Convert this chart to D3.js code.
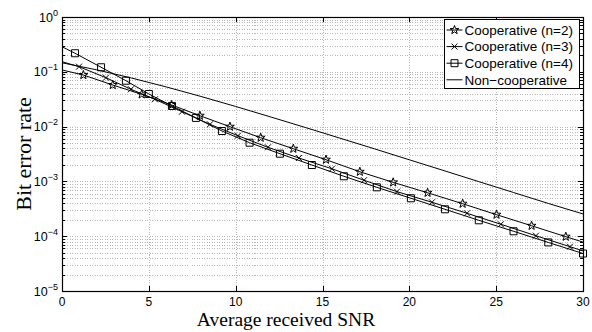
<!DOCTYPE html>
<html>
<head>
<meta charset="utf-8">
<script src="https://cdn.jsdelivr.net/npm/d3@7"></script>
<style>
  html, body { margin: 0; padding: 0; background: #fff; }
  svg { display: block; }
</style>
</head>
<body>
<svg id="chart" width="592" height="332"></svg>
<script>
// values
const coop2Snr = [0, 1.23, 2.92, 4.59, 6.31, 7.94, 9.67, 11.44, 13.32, 15.2, 17.15, 19.07, 21.05, 23.07, 25.02, 27.04, 29.01, 30];
const coop2Ber = [0.108, 0.0874, 0.0574, 0.0388, 0.0248, 0.0158, 0.00996, 0.00627, 0.00395, 0.00249, 0.0015, 9.6e-4, 6.2e-4, 3.92e-4, 2.47e-4, 1.55e-4, 9.8e-5, 7.8e-5];

const coop3Snr = [0, 0.98, 2.53, 3.97, 5.35, 6.91, 8.52, 10.13, 11.86, 13.64, 15.54, 17.39, 19.29, 21.3, 23.32, 25.27, 27.29, 29.25, 30];
const coop3Ber = [0.153, 0.124, 0.078, 0.048, 0.0315, 0.0187, 0.011, 0.00682, 0.00419, 0.00267, 0.0017, 0.00105, 6.5e-4, 4.16e-4, 2.62e-4, 1.65e-4, 1.02e-4, 6.43e-5, 5.4e-5];

const coop4Snr = [0, 0.75, 2.25, 3.68, 5.0, 6.33, 7.71, 9.21, 10.8, 12.55, 14.39, 16.23, 18.13, 20.09, 22.05, 24, 26, 28, 30];
const coop4Ber = [0.287, 0.218, 0.121, 0.0688, 0.0394, 0.0238, 0.0144, 0.00831, 0.00508, 0.0032, 0.00199, 0.00124, 7.8e-4, 4.92e-4, 3.1e-4, 1.95e-4, 1.23e-4, 7.7e-5, 4.83e-5];

const nonCoopSnr = [0, 2, 4, 6, 8, 10, 12, 14, 16, 18, 20, 22, 24, 26, 28, 30];
const nonCoopBer = [0.146, 0.1085, 0.0771, 0.053, 0.0355, 0.0233, 0.01505, 0.00966, 0.00616, 0.00392, 0.00248, 0.00157, 9.9e-4, 6.27e-4, 3.96e-4, 2.55e-4];

const xTicks = [0, 5, 10, 15, 20, 25, 30];
const yExponents = [0, -1, -2, -3, -4, -5];

const series = [
  { name: 'Cooperative (n=2)', x: coop2Snr, y: coop2Ber, marker: 'star', from: 1, to: coop2Snr.length - 2 },
  { name: 'Cooperative (n=3)', x: coop3Snr, y: coop3Ber, marker: 'cross', from: 1, to: coop3Snr.length - 2 },
  { name: 'Cooperative (n=4)', x: coop4Snr, y: coop4Ber, marker: 'square', from: 1, to: coop4Snr.length - 1 },
  { name: 'Non\u2212cooperative', x: nonCoopSnr, y: nonCoopBer, marker: null }
];

const margin = { left: 62, right: 9, top: 17, bottom: 41 };
const W = 592, H = 332;
const pw = W - margin.left - margin.right;
const ph = H - margin.top - margin.bottom;

const svg = d3.select('#chart');
const g = svg.append('g').attr('transform', `translate(${margin.left},${margin.top})`);

const x = d3.scaleLinear().domain([0, 30]).range([0, pw]);
const y = d3.scaleLog().domain([1e-5, 1]).range([ph, 0]);

// minor + major log ticks
const logTicks = [];
for (let e = -5; e < 0; e++) {
  for (let m = 1; m <= 9; m++) logTicks.push(m * Math.pow(10, e));
}
logTicks.push(1);

// grid
const grid = g.append('g')
  .attr('stroke', '#b8b8b8')
  .attr('stroke-width', 1)
  .attr('stroke-dasharray', '1,1.5')
  .attr('shape-rendering', 'crispEdges');
grid.selectAll('.gy').data(logTicks.filter(v => v > 1e-5 && v < 1)).join('line')
  .attr('x1', 0).attr('x2', pw)
  .attr('y1', d => Math.round(y(d)) + 0.5).attr('y2', d => Math.round(y(d)) + 0.5);
grid.selectAll('.gx').data(xTicks.filter(v => v > 0 && v < 30)).join('line')
  .attr('y1', 0).attr('y2', ph)
  .attr('x1', d => Math.round(x(d)) + 0.5).attr('x2', d => Math.round(x(d)) + 0.5);

// ticks (inward, all four sides)
const ticks = g.append('g').attr('stroke', '#000').attr('stroke-width', 1).attr('shape-rendering', 'crispEdges');
xTicks.forEach(v => {
  const px = Math.round(x(v)) + 0.5;
  ticks.append('line').attr('x1', px).attr('x2', px).attr('y1', ph).attr('y2', ph - 5);
  ticks.append('line').attr('x1', px).attr('x2', px).attr('y1', 0).attr('y2', 5);
});
logTicks.forEach(v => {
  const py = Math.round(y(v)) + 0.5;
  const len = Math.abs(Math.log10(v) - Math.round(Math.log10(v))) < 1e-9 ? 5 : 3;
  ticks.append('line').attr('x1', 0).attr('x2', len).attr('y1', py).attr('y2', py);
  ticks.append('line').attr('x1', pw).attr('x2', pw - len).attr('y1', py).attr('y2', py);
});

// lines
const line = d3.line().x(d => x(d[0])).y(d => y(d[1]));
const plot = g.append('g');
series.forEach(s => {
  const pts = s.x.map((v, i) => [v, s.y[i]]);
  plot.append('path').datum(pts)
    .attr('d', line)
    .attr('fill', 'none')
    .attr('stroke', '#000')
    .attr('stroke-width', 1);
});

function starPath(r) {
  const pts = [];
  for (let i = 0; i < 10; i++) {
    const rr = i % 2 === 0 ? r : r * 0.4;
    const a = -Math.PI / 2 + i * Math.PI / 5;
    pts.push([rr * Math.cos(a), rr * Math.sin(a)]);
  }
  return 'M' + pts.map(p => p[0].toFixed(2) + ',' + p[1].toFixed(2)).join('L') + 'Z';
}
function markerPath(type) {
  if (type === 'star') return starPath(4.6);
  if (type === 'cross') return 'M-3,-3L3,3M-3,3L3,-3';
  if (type === 'square') return 'M-3.5,-3.5H3.5V3.5H-3.5Z';
  return '';
}

series.forEach(s => {
  if (!s.marker) return;
  const pts = s.x.map((v, i) => [v, s.y[i]]).slice(s.from, s.to + 1);
  plot.selectAll(null).data(pts).join('path')
    .attr('transform', d => `translate(${x(d[0])},${y(d[1])})`)
    .attr('d', markerPath(s.marker))
    .attr('fill', 'none')
    .attr('stroke', '#000')
    .attr('stroke-width', 1);
});

// box
g.append('rect').attr('x', 0.5).attr('y', 0.5).attr('width', pw).attr('height', ph)
  .attr('fill', 'none').attr('stroke', '#000').attr('stroke-width', 1.2);

// x tick labels
g.append('g').selectAll('text').data(xTicks).join('text')
  .attr('x', d => x(d)).attr('y', ph + 14.5)
  .attr('text-anchor', 'middle')
  .attr('font-family', 'Liberation Sans, Arial, sans-serif')
  .attr('font-size', 12)
  .text(d => d);

// y tick labels 10^e
const yl = g.append('g').attr('font-family', 'Liberation Sans, Arial, sans-serif');
yExponents.forEach(e => {
  const py = y(Math.pow(10, e));
  const t = yl.append('text').attr('x', -4).attr('y', py + 4.5).attr('text-anchor', 'end').attr('font-size', 12.5);
  t.append('tspan').text('10');
  t.append('tspan').attr('dy', -6).attr('font-size', 9).text(e === 0 ? '0' : '\u2212' + (-e));
});

// axis titles
svg.append('text')
  .attr('x', 286).attr('y', 325.5)
  .attr('text-anchor', 'middle')
  .attr('font-family', 'Liberation Serif, Times New Roman, serif')
  .attr('font-size', 19.5)
  .text('Average received SNR');
svg.append('text')
  .attr('transform', `translate(31,${margin.top + ph / 2}) rotate(-90)`)
  .attr('text-anchor', 'middle')
  .attr('font-family', 'Liberation Serif, Times New Roman, serif')
  .attr('font-size', 22)
  .text('Bit error rate');

// legend
const lg = svg.append('g').attr('transform', 'translate(444.5,19.5)');
lg.append('rect').attr('width', 135).attr('height', 69)
  .attr('fill', '#fff').attr('stroke', '#000').attr('stroke-width', 1);
series.forEach((s, i) => {
  const cy = 10.5 + i * 16.6;
  lg.append('line').attr('x1', 2).attr('x2', 18).attr('y1', cy).attr('y2', cy)
    .attr('stroke', '#000').attr('stroke-width', 1);
  if (s.marker) {
    lg.append('path').attr('transform', `translate(10,${cy})`)
      .attr('d', markerPath(s.marker))
      .attr('fill', 'none').attr('stroke', '#000').attr('stroke-width', 1);
  }
  lg.append('text').attr('x', 20).attr('y', cy + 4.8)
    .attr('font-family', 'Liberation Sans, Arial, sans-serif')
    .attr('font-size', 13.5)
    .text(s.name);
});
</script>
</body>
</html>
